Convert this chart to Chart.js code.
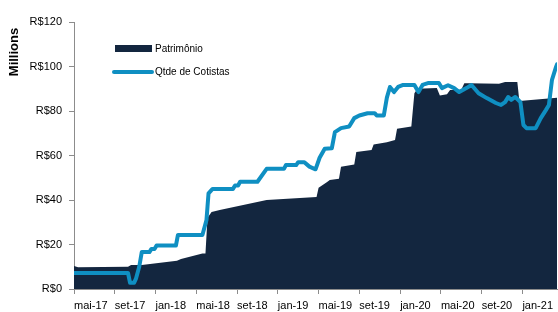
<!DOCTYPE html>
<html>
<head>
<meta charset="utf-8">
<script src="https://cdn.jsdelivr.net/npm/chart.js@4/dist/chart.umd.min.js"></script>
<style>
  html, body { margin: 0; padding: 0; background: #fff; }
  #wrap { width: 558px; height: 312px; }
</style>
</head>
<body>
<div id="wrap"><canvas id="grafico"></canvas></div>
<script>
// Eixo X em meses a partir de mai-17 (0 = mai-17)
const xLabels = ['mai-17', 'set-17', 'jan-18', 'mai-18', 'set-18', 'jan-19',
                 'mai-19', 'set-19', 'jan-20', 'mai-20', 'set-20', 'jan-21'];
const yTicks = [0, 20, 40, 60, 80, 100, 120];

// Patrimônio (R$ milhões)
const patrMeses = [0, 0.4, 5.3, 5.6, 6.65, 10.1, 10.5, 12.6, 12.9, 13.1, 13.5, 14.3,
                   18.9, 23.8, 24.0, 24.8, 25.1, 26.0, 26.2, 27.5, 27.7, 29.2, 29.4,
                   30.7, 31.5, 31.7, 33.1, 33.4, 33.7, 35.6, 35.9, 36.6, 36.9, 38.0,
                   38.3, 38.7, 41.7, 42.3, 43.5, 43.7, 47.4];
const patrValores = [10.3, 9.8, 10.0, 10.8, 10.8, 12.7, 13.5, 16, 16, 32, 34.6, 35.5,
                     40, 41.3, 45.5, 48, 49, 49.5, 55, 56, 61.6, 62.5, 65,
                     66, 67, 72, 73, 88, 90, 90.3, 87, 87.5, 89.4, 89.5,
                     92.5, 92.5, 92.2, 93, 93, 84.5, 86];

// Qtde de Cotistas (na mesma escala visual)
const cotMeses = [0, 5.3, 5.5, 5.9, 6.1, 6.4, 6.65, 7.4, 7.6, 7.9, 8.1, 10.0, 10.2,
                  12.6, 13.0, 13.1, 13.2, 13.6, 15.6, 15.8, 16.1, 16.3, 18.0, 18.9,
                  20.6, 20.8, 21.8, 22.0, 22.6, 23.1, 23.7, 24.1, 24.6, 25.3, 25.6,
                  26.2, 27.0, 27.5, 28.0, 28.8, 29.5, 29.7, 30.4, 30.7, 31.0, 31.4,
                  31.8, 32.3, 33.4, 33.8, 34.2, 34.8, 35.8, 36.1, 36.7, 37.3, 37.8,
                  38.5, 39.0, 39.7, 40.5, 41.4, 41.9, 42.3, 42.6, 42.9, 43.3, 43.8,
                  44.1, 44.4, 45.3, 45.8, 46.3, 46.6, 46.9, 47.3, 47.4];
const cotValores = [7.2, 7.2, 2.8, 2.8, 4.9, 10, 16.6, 16.6, 18, 18, 19.5, 19.5, 24.3,
                    24.3, 31, 37, 43, 45, 45, 46.5, 46.5, 48.2, 48.2, 54,
                    54, 55.7, 55.7, 57, 57, 55, 53.8, 59, 63, 63.3, 70.5,
                    72.3, 73, 76.8, 78, 79, 79, 78, 78, 86, 90.8, 88.5,
                    90.8, 91.7, 91.7, 88.5, 91.7, 92.6, 92.6, 90.3, 91.6, 90.3, 88.5,
                    90.3, 91.7, 88, 85.8, 83.6, 82.7, 84, 86.3, 85, 86.3, 84,
                    73.7, 72.3, 72.3, 76.8, 80.4, 82.7, 94, 99.8, 101];

const corPatr = '#13263f';
const corCot = '#0f8fc2';
const fonte = '"Liberation Sans", Arial, sans-serif';

// Legenda e rótulo "Millions" desenhados à mão
const legendaInterna = {
    id: 'legendaInterna',
    afterDraw(chart) {
        const c = chart.ctx;
        c.save();
        c.fillStyle = corPatr;
        c.fillRect(115, 45, 37, 7);
        c.strokeStyle = corCot;
        c.lineWidth = 4;
        c.lineCap = 'round';
        c.beginPath();
        c.moveTo(114, 72);
        c.lineTo(152, 72);
        c.stroke();
        c.fillStyle = '#000';
        c.font = '10px ' + fonte;
        c.textBaseline = 'middle';
        c.fillText('Patrimônio', 155, 49);
        c.fillText('Qtde de Cotistas', 155, 72.5);

        // título do eixo Y
        c.translate(14, 52);
        c.rotate(-Math.PI / 2);
        c.font = 'bold 13px ' + fonte;
        c.textAlign = 'center';
        c.fillText('Millions', 0, 0);
        c.restore();
    }
};

const ctx = document.getElementById('grafico').getContext('2d');

new Chart(ctx, {
    type: 'line',
    data: {
        datasets: [{
            label: 'Qtde de Cotistas',
            data: cotMeses.map((m, i) => ({ x: m, y: cotValores[i] })),
            borderColor: corCot,
            borderWidth: 4,
            borderJoinStyle: 'round',
            borderCapStyle: 'round',
            pointRadius: 0,
            fill: false,
            order: 1
        }, {
            label: 'Patrimônio',
            data: patrMeses.map((m, i) => ({ x: m, y: patrValores[i] })),
            borderWidth: 0,
            backgroundColor: corPatr,
            pointRadius: 0,
            fill: 'origin',
            order: 2
        }]
    },
    options: {
        responsive: true,
        maintainAspectRatio: false,
        animation: false,
        layout: { padding: { top: 22, right: 0, left: 0, bottom: 0 } },
        plugins: {
            legend: { display: false },
            tooltip: { enabled: false }
        },
        scales: {
            x: {
                type: 'linear',
                min: 0,
                max: 47.4,
                afterFit(scale) { scale.height = 23; },
                border: { color: '#8c8c8c', width: 1 },
                grid: { drawOnChartArea: false, drawTicks: true, tickLength: 5, color: '#8c8c8c' },
                afterBuildTicks(scale) {
                    scale.ticks = xLabels.map((l, i) => ({ value: i * 4 }));
                },
                ticks: {
                    align: 'start',
                    padding: 5,
                    color: '#000',
                    font: { family: fonte, size: 11 },
                    maxRotation: 0,
                    autoSkip: false,
                    callback: (v) => xLabels[Math.round(v / 4)]
                }
            },
            y: {
                min: 0,
                max: 120,
                afterFit(scale) { scale.width = 74; },
                afterBuildTicks(scale) {
                    scale.ticks = yTicks.map(v => ({ value: v }));
                },
                border: { color: '#8c8c8c', width: 1 },
                grid: { drawOnChartArea: false, drawTicks: true, tickLength: 5, color: '#8c8c8c' },
                ticks: {
                    padding: 7,
                    color: '#000',
                    font: { family: fonte, size: 11 },
                    callback: (v) => 'R$' + v
                }
            }
        }
    },
    plugins: [legendaInterna]
});
</script>
</body>
</html>
